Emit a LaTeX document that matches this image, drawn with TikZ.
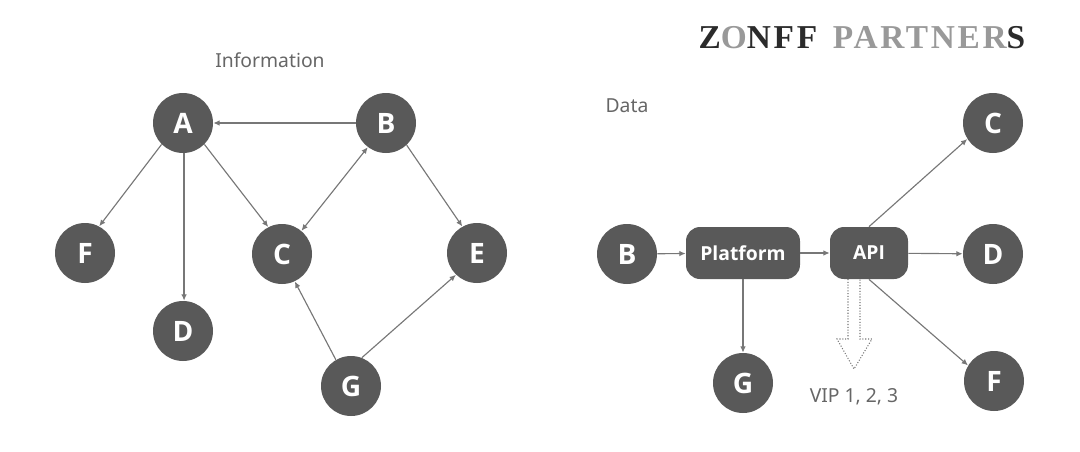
\documentclass[tikz,border=0pt]{standalone}
\usepackage{fontspec}
\setmainfont{Noto Sans}
\newfontfamily\nodefont{Open Sans}
\newfontfamily\logofont[LetterSpace=8]{Liberation Serif}
\usepackage{xcolor}
\usetikzlibrary{arrows.meta}
\definecolor{nodegray}{HTML}{595959}
\definecolor{linegray}{HTML}{777777}
\definecolor{textgray}{HTML}{666666}
\definecolor{logodark}{HTML}{2B2B2B}
\definecolor{logolight}{HTML}{999999}
\tikzset{
  dot/.style={circle,fill=nodegray,text=white,inner sep=0pt,minimum size=60*0.02cm,font=\fontsize{16}{16}\selectfont\nodefont\bfseries},
  pbox/.style={rectangle,rounded corners=8pt,fill=nodegray,text=white,inner sep=0pt,minimum height=52*0.02cm,font=\fontsize{11}{12}\selectfont\nodefont\bfseries},
  lbl/.style={text=textgray,inner sep=0pt,font=\fontsize{11}{12}\selectfont},
  conn/.style={->,line width=0.65pt,color=linegray},
}
\newcommand{\Ld}[1]{\textcolor{logodark}{#1}}
\newcommand{\Ll}[1]{\textcolor{logolight}{#1}}
\begin{document}
\begin{tikzpicture}[x=0.02cm,y=-0.02cm,>={Latex[length=3.6pt,width=3.2pt]}]
\useasboundingbox (0,0) rectangle (1080,451);
% left graph
\node (infotitle) [lbl] at (270,60) {Information};
\node (a) [dot] at (183,123) {A};
\node (b) [dot] at (386,123) {B};
\node (c) [dot] at (282,254) {C};
\node (d) [dot] at (183,331) {D};
\node (e) [dot] at (477,253) {E};
\node (f) [dot] at (85,253) {F};
\node (g) [dot] at (351,386) {G};
%
\path[conn] (b) edge (a);
\path[conn] (a.225) edge (f.62);
\path[conn] (a.-88) edge (d.88);
\path[conn] (a.-45) edge (c.117);
\path[conn,<->] (b.233) edge (c.50);
\path[conn] (b.-47) edge (e.119);
\path[conn] (g.120) edge (c.-65);
\path[conn] (g.69) edge (e.226);
% right graph
\node (datatitle) [lbl] at (627,106) {Data};
\draw[linegray,densely dotted,line width=0.6pt] (848,279) -- (848,339) -- (837,339) -- (854,369) -- (872,339) -- (860,339) -- (860,279);
\node (viplabel) [lbl] at (854,397) {VIP 1, 2, 3};
\node (b2) [dot] at (627,254) {B};
\node (platform) [pbox,minimum width=114*0.02cm] at (743,253) {Platform};
\node (api) [pbox,minimum width=78*0.02cm] at (869,253) {API};
\node (c2) [dot] at (993,123) {C};
\node (d2) [dot] at (993,254) {D};
\node (g2) [dot] at (743,383) {G};
\node (f2) [dot] at (994,381) {F};
%
\path[conn] (b2) edge (platform);
\path[conn] (platform) edge (api);
\path[conn] (platform) edge (g2);
\path[conn] (api.north) edge (c2.212);
\path[conn] (api) edge (d2);
\path[conn] (api.south) edge (f2.149);
% logo
\node (logo) [inner sep=0pt,font=\fontsize{19}{20}\selectfont\logofont\bfseries] at (862,38) {\Ld{Z}\Ll{O}\Ld{NFF}\hspace{9pt}\Ll{PARTNER}\Ld{S}};
\end{tikzpicture}
\end{document}
